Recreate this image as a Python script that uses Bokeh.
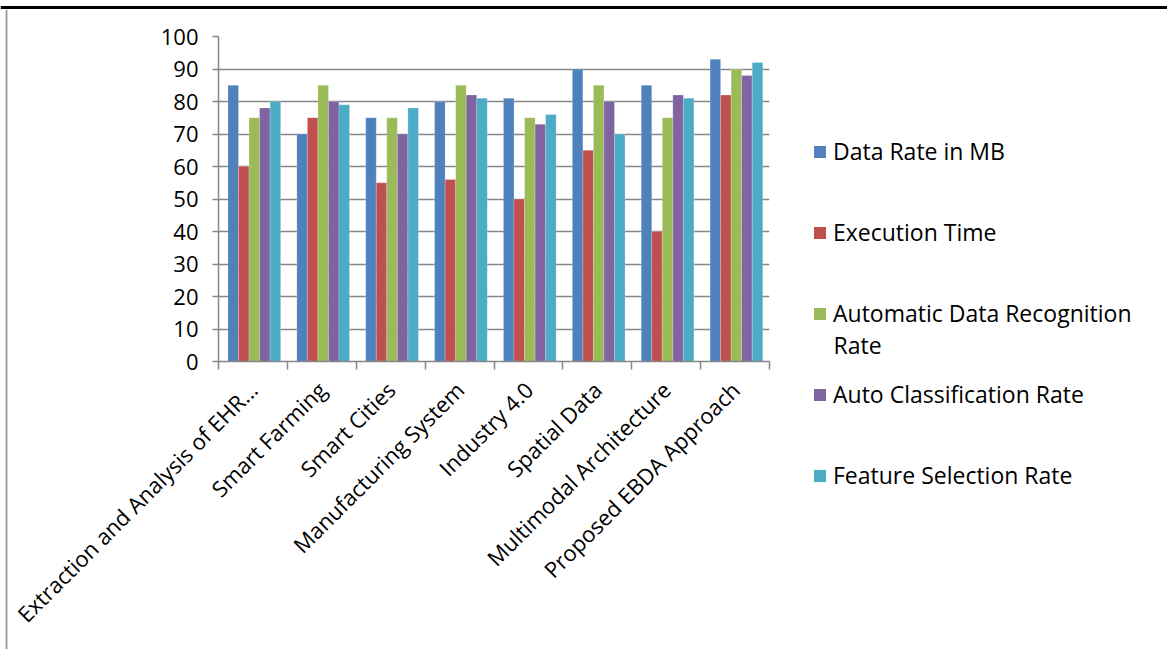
import math

from bokeh.core.properties import value
from bokeh.embed import file_html
from bokeh.layouts import column, row
from bokeh.models import FixedTicker, Legend, LegendItem, Range1d
from bokeh.plotting import figure
from bokeh.resources import INLINE

# Approaches compared on the x axis
categories = [
    "Extraction and Analysis of EHR...",
    "Smart Farming",
    "Smart Cities",
    "Manufacturing System",
    "Industry 4.0",
    "Spatial Data",
    "Multimodal Architecture",
    "Proposed EBDA Approach",
]

# One list per metric, in category order
data_rate = [85, 70, 75, 80, 81, 90, 85, 93]
execution_time = [60, 75, 55, 56, 50, 65, 40, 82]
auto_recognition = [75, 85, 75, 85, 75, 85, 75, 90]
auto_classification = [78, 80, 70, 82, 73, 80, 82, 88]
feature_selection = [80, 79, 78, 81, 76, 70, 81, 92]

series_names = [
    "Data Rate in MB",
    "Execution Time",
    "Automatic Data Recognition",
    "Auto Classification Rate",
    "Feature Selection Rate",
]
series_values = [data_rate, execution_time, auto_recognition,
                 auto_classification, feature_selection]
colors = ["#4F81BD", "#C0504D", "#9BBB59", "#8064A2", "#4BACC6"]

y_ticks = list(range(0, 101, 10))

FONT = "Open Sans"
AXIS_GRAY = "#868686"
EDGE_GRAY = "#a0a0a0"

W, H = 1167, 649
TOP_H = 9          # page rule strip
EDGE_W = 8         # left frame edge strip
MAIN_W = 773
BODY_H = H - TOP_H
LEG_W = W - EDGE_W - MAIN_W


def strip(width, height):
    """Blank figure whose data units are pixels, origin at top-left."""
    f = figure(width=width, height=height,
               x_range=Range1d(0, width), y_range=Range1d(height, 0),
               x_axis_type=None, y_axis_type=None, min_border=0,
               toolbar_location=None, output_backend="svg",
               outline_line_color=None, frame_align=False)
    return f


# Thick page rule with a thin grey rule beneath it
top = strip(W, TOP_H)
top.quad(left=[0], right=[W], top=[2.5], bottom=[7], fill_color="black",
         line_color=None)
top.quad(left=[0], right=[W], top=[7], bottom=[8.5], fill_color=EDGE_GRAY,
         line_color=None)

# Left edge of the chart frame
edge = strip(EDGE_W, BODY_H)
edge.quad(left=[5], right=[7], top=[0], bottom=[BODY_H], fill_color=EDGE_GRAY,
          line_color=None)

# Main bar chart
n_cat = len(categories)
p = figure(
    width=MAIN_W, height=BODY_H,
    x_range=Range1d(0, n_cat), y_range=Range1d(0, 100),
    min_border_left=210, min_border_right=12,
    min_border_top=27, min_border_bottom=288,
    toolbar_location=None, output_backend="svg",
    outline_line_color=None, frame_align=False,
)

bar_w = 0.153
for j, (name, vals) in enumerate(zip(series_names, series_values)):
    xs = [i + 0.52 + (j - 2) * bar_w for i in range(n_cat)]
    p.vbar(x=xs, top=vals, width=bar_w, fill_color=colors[j],
           line_color="white", line_alpha=0.35, line_width=0.6)

# Y axis and horizontal grid
p.yaxis.ticker = FixedTicker(ticks=y_ticks)
p.yaxis.axis_line_color = AXIS_GRAY
p.yaxis.axis_line_width = 1.5
p.yaxis.major_tick_line_color = AXIS_GRAY
p.yaxis.major_tick_line_width = 1.5
p.yaxis.major_tick_out = 6
p.yaxis.major_tick_in = 0
p.yaxis.minor_tick_line_color = None
p.yaxis.major_label_standoff = 14
p.yaxis.major_label_text_font = FONT
p.yaxis.major_label_text_font_size = "22px"
p.yaxis.major_label_text_color = "black"

p.ygrid.ticker = FixedTicker(ticks=y_ticks)
p.ygrid.grid_line_color = AXIS_GRAY
p.ygrid.grid_line_width = 1.5
p.xgrid.grid_line_color = None

# X axis: labels at slot centres, tick marks on slot boundaries
centers = [i + 0.5 for i in range(n_cat)]
bounds = list(range(n_cat + 1))
p.xaxis.ticker = FixedTicker(ticks=centers, minor_ticks=bounds)
p.xaxis.major_label_overrides = {c: lab for c, lab in zip(centers, categories)}
p.xaxis.axis_line_color = AXIS_GRAY
p.xaxis.axis_line_width = 1.5
p.xaxis.major_tick_line_color = None
p.xaxis.major_tick_out = 6
p.xaxis.minor_tick_line_color = AXIS_GRAY
p.xaxis.minor_tick_line_width = 1.5
p.xaxis.minor_tick_out = 8
p.xaxis.minor_tick_in = 0
p.xaxis.major_label_orientation = math.pi / 4
p.xaxis.major_label_standoff = 16
p.xaxis.major_label_text_font = FONT
p.xaxis.major_label_text_font_size = "22px"
p.xaxis.major_label_text_color = "black"

# Legend panel on the right; each swatch renderer is a zero-size bar
leg = strip(LEG_W, BODY_H)
swatches = [leg.vbar(x=[0], top=[0], bottom=[0], width=0, fill_color=c,
                     line_color=None)
            for c in colors]
legend = Legend(
    items=[LegendItem(label=n, renderers=[r])
           for n, r in zip(series_names, swatches)],
    location=(31, 158),
    glyph_width=15, glyph_height=15, label_standoff=6,
    label_height=31, spacing=49, padding=0, margin=0,
    label_text_font=FONT, label_text_font_size="23px",
    label_text_color="black",
    border_line_color=None, background_fill_alpha=0,
)
leg.add_layout(legend)
# Wrapped second line of the third entry
leg.text(x=[52], y=[335], text=["Rate"], text_font=value(FONT),
         text_font_size="23px", text_baseline="middle", text_color="black")

page = column(top, row(edge, p, leg, spacing=0), spacing=0)

open("out.html", "w").write(file_html(page, INLINE))
